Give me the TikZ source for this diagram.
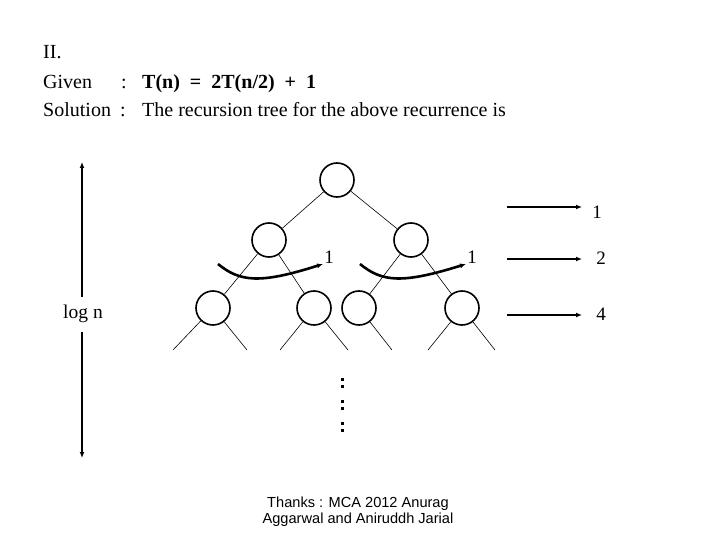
\documentclass[tikz,border=0pt]{standalone}
\usepackage{fontspec}
\setmainfont{Liberation Serif}
\newfontfamily\arialfont{Liberation Sans}
\usetikzlibrary{arrows.meta}
\begin{document}
\begin{tikzpicture}[x=1pt,y=-1pt,
  txt/.style={anchor=base west,inner sep=0pt,font=\fontsize{20}{22}\selectfont},
  lbl/.style={inner sep=0pt,font=\fontsize{19}{20}\selectfont},
  tnode/.style={circle,draw,line width=1.6pt,minimum size=34pt,inner sep=0pt},
  edge/.style={line width=0.6pt},
  thick arrow/.style={line width=2pt,-{Latex[length=6pt,width=5pt]}},
  curve arrow/.style={line width=2.6pt,-{Latex[length=6pt,width=5pt]}}]
\useasboundingbox[fill=white] (0,0) rectangle (720,540);
% header text
\node[txt] (t1) at (43,59) {II.};
\node[txt] (t2) at (43,89) {Given};
\node[txt] (t3) at (121,89) {:};
\node[txt] (t4) at (142,89) {\bfseries T(n)\ \ =\ \ 2T(n/2)\ \ +\ \ 1};
\node[txt] (t5) at (43,117) {Solution};
\node[txt] (t6) at (120,117) {:};
\node[txt] (t7) at (142,117) {The recursion tree for the above recurrence is};
% tree
\node[tnode] (r) at (337,180) {};
\node[tnode] (a) at (269,240) {};
\node[tnode] (b) at (411,240) {};
\node[tnode] (a1) at (213,308) {};
\node[tnode] (a2) at (314,308) {};
\node[tnode] (b1) at (359,308) {};
\node[tnode] (b2) at (462,308) {};
\draw[edge] (r) -- (a);
\draw[edge] (r) -- (b);
\draw[edge] (a) -- (a1);
\draw[edge] (a) -- (a2);
\draw[edge] (b) -- (b1);
\draw[edge] (b) -- (b2);
\coordinate (l1) at (173,350);
\coordinate (l2) at (247,350);
\coordinate (l3) at (280,350);
\coordinate (l4) at (348,350);
\coordinate (l5) at (392,350);
\coordinate (l6) at (428,350);
\coordinate (l7) at (495,350);
\draw[edge] (a1) -- (l1);
\draw[edge] (a1) -- (l2);
\draw[edge] (a2) -- (l3);
\draw[edge] (a2) -- (l4);
\draw[edge] (b1) -- (l5);
\draw[edge] (b2) -- (l6);
\draw[edge] (b2) -- (l7);
% curved arrows
\coordinate (ca1) at (218,264);
\coordinate (ca2) at (323,264);
\coordinate (cb1) at (360,264);
\coordinate (cb2) at (466,264);
\draw[curve arrow] (ca1) .. controls (240,282) and (260,284) .. (ca2);
\draw[curve arrow] (cb1) .. controls (382,282) and (402,284) .. (cb2);
\node[lbl] (n1) at (329,257) {1};
\node[lbl] (n2) at (472,257) {1};
% right arrows
\coordinate (s1) at (507,207);
\coordinate (e1) at (582,207);
\coordinate (s2) at (507,259);
\coordinate (e2) at (582,259);
\coordinate (s3) at (507,315);
\coordinate (e3) at (582,315);
\draw[thick arrow] (s1) -- (e1);
\draw[thick arrow] (s2) -- (e2);
\draw[thick arrow] (s3) -- (e3);
\node[lbl] (m1) at (597,212) {1};
\node[lbl] (m2) at (601,258) {2};
\node[lbl] (m3) at (601,314) {4};
% log n arrow
\node[lbl,font=\fontsize{19.5}{20}\selectfont,inner sep=2pt] (logn) at (83,314) {log n};
\coordinate (vt) at (82,162);
\coordinate (vb) at (82,458);
\draw[thick arrow] (82,297) -- (vt);
\draw[thick arrow] (82,332) -- (vb);
% dots
\foreach \yy in {378,385,400,407,422,429}
  \fill (341,\yy) rectangle (344,\yy+3);
% thanks
\node[inner sep=0pt,align=center,font=\arialfont\fontsize{14.6}{16}\selectfont] (thx) at (358,512) {Thanks : MCA 2012 Anurag\\Aggarwal and Aniruddh Jarial};
\end{tikzpicture}
\end{document}
